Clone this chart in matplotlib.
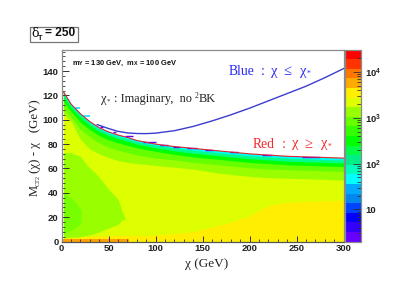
import matplotlib
matplotlib.use("Agg")
import matplotlib.pyplot as plt
from matplotlib.cm import ScalarMappable
from matplotlib.colors import ListedColormap, LogNorm
from matplotlib.patches import Rectangle
from matplotlib.ticker import FixedLocator, NullFormatter

plt.rcParams['font.family'] = ['Liberation Sans', 'DejaVu Sans']
plt.rcParams['mathtext.fontset'] = 'custom'
plt.rcParams['mathtext.rm'] = 'Liberation Sans:bold'
plt.rcParams['mathtext.bf'] = 'Liberation Sans:bold'
plt.rcParams['mathtext.it'] = 'Liberation Serif:italic'

# ---- data ----
knots = [2, 10, 20, 30, 40, 50, 60, 70, 80, 100, 120, 140, 160, 180, 200, 220, 240, 260, 280, 300]
red_curve = [123, 113, 105, 98.5, 93.5, 90, 87.5, 85.5, 83, 80, 78, 76.5, 75, 73.5, 72, 71, 70, 69.5, 69, 68.5]
cyan_low = [121.5, 112, 104, 97.5, 92.5, 89, 86.5, 84.5, 82, 79, 77, 75, 73.5, 72, 70.5, 69.5, 68.5, 68, 67.5, 67]
teal_low = [119, 110, 102, 95.5, 90.5, 87, 84.5, 82.5, 80, 77, 74.5, 72.5, 71, 69.5, 68, 67, 66, 65.5, 65, 64.5]
green_low = [115, 107, 98, 92, 87, 83.5, 81, 79, 77, 74, 71.5, 69.5, 68, 66.5, 65, 64, 63, 62.5, 62, 61.5]
grass_low = [110, 102, 92, 86, 81, 77.5, 75, 73, 71, 68.5, 67, 65, 63.5, 62, 60.5, 59.5, 59, 58.5, 58, 57.5]
lime_low = [105, 99, 84, 76, 72, 69, 66.5, 65, 64, 62.5, 61, 59.5, 57, 55, 53.5, 52.5, 52, 51.5, 51, 50.5]

blue_x = [38, 50, 60, 70, 80, 90, 100, 120, 140, 160, 180, 200, 220, 240, 260, 280, 300]
blue_y = [96, 92.8, 90.5, 89.2, 88.7, 88.6, 89, 91, 94.5, 99, 104, 109.5, 115.5, 121.5, 127.5, 134.5, 142]

yellow_x = [2, 30, 60, 94, 120, 140, 165, 180, 200, 218, 236, 260, 280, 300]
yellow_hi = [2.5, 4.5, 5, 5, 6.5, 8, 13, 16, 21, 29, 32, 33, 33.5, 34]

patch_x = [2, 10, 20, 28, 35, 40, 45, 50, 55, 60, 65, 68]
patch_hi = [73, 73, 70, 62, 57, 53, 48, 43, 39, 35, 24, 18]
patch_lo = [3, 3.5, 4, 5, 6.5, 8, 9.5, 11, 12.5, 14, 18, 18]

core_x = [2, 6, 10, 14, 18, 21]
core_hi = [41, 38, 35.5, 33, 29, 26]
core_lo = [6, 8, 9, 11, 13, 16]

orange_x = [2, 72]
orange_hi = [2, 2]

violet_start = [41, 55, 67.5, 87, 105, 119, 133.5, 152.7, 179, 213, 256]
violet_end = [44, 58, 76, 101, 113, 126, 144, 161, 188, 224, 275]
violet_y = [93.8, 89.6, 86.4, 81.8, 79.6, 78, 76.6, 75, 73.2, 71.4, 69.8]
cyan_start = [14, 23]
cyan_end = [20, 30]
cyan_y = [110, 103]

palette = ['#6600ff', '#3300ff', '#0000ff', '#0044ff', '#0088ee', '#00aaff', '#00ffff', '#00ffbb',
           '#00ee88', '#00ff44', '#00ff00', '#33ff00', '#66ff00', '#99ff00', '#ddff00', '#ffee00',
           '#ffaa00', '#ff7700', '#ff3300', '#ff0000']
x_ticks = [0, 50, 100, 150, 200, 250, 300]
y_ticks = [0, 20, 40, 60, 80, 100, 120, 140]
z_ticks = [10, 100, 1000, 10000]
z_labels = ['10', r'$\mathbf{10^{2}}$', r'$\mathbf{10^{3}}$', r'$\mathbf{10^{4}}$']

W, H = 415, 293
fig = plt.figure(figsize=(W / 100, H / 100), dpi=100)
ax = fig.add_axes([61.5 / W, 1 - 241.5 / H, 282 / W, 192 / H])
GRAY = '#8a8a8a'

# ---- histogram bands, widest first ----
ax.fill_between(knots, 0, red_curve, color='#ddff00', lw=0)
ax.fill_between(yellow_x, 0, yellow_hi, color='#ffee00', lw=0)
for low, col in [(lime_low, '#99ff00'), (grass_low, '#66ff00'), (green_low, '#00ff00'),
                 (teal_low, '#00ff88'), (cyan_low, '#00ffff')]:
    ax.fill_between(knots, low, red_curve, color=col, lw=0)
ax.fill_between(patch_x, patch_lo, patch_hi, color='#99ff00', lw=0)
ax.fill_between(core_x, core_lo, core_hi, color='#77ff00', lw=0)
ax.fill_between(orange_x, 0, orange_hi, color='#ffa000', lw=0)
ax.hlines(violet_y, violet_start, violet_end, color='#6600ee', lw=1.0)
ax.hlines(cyan_y, cyan_start, cyan_end, color='#22ddff', lw=1.2)

ax.plot(knots, red_curve, color='#d82838', lw=0.8)
ax.plot(blue_x, blue_y, color='#3c3cd0', lw=1.0)

ax.set_xlim(0, 300)
ax.set_ylim(0, 157.7)
ax.set_xticks(x_ticks)
ax.set_yticks(y_ticks)
ax.set_xticks(range(0, 301, 10), minor=True)
ax.set_yticks(range(0, 157, 4), minor=True)
ax.tick_params(axis='x', which='major', direction='in', length=4, width=0.7, color='#333333', pad=2)
ax.tick_params(axis='x', which='minor', direction='in', length=2, width=0.6, color='#333333')
ax.tick_params(axis='y', which='major', direction='in', length=5, width=0.7, color='#333333', pad=2)
ax.tick_params(axis='y', which='minor', direction='in', length=2.5, width=0.6, color='#333333')
for lab in ax.get_xticklabels() + ax.get_yticklabels():
    lab.set_fontweight('bold')
    lab.set_fontsize(6.8)
    lab.set_color('#222222')
for s in ax.spines.values():
    s.set_color(GRAY)
    s.set_linewidth(0.9)
ax.spines['bottom'].set_color('#555555')

# ---- colour bar ----
cax = fig.add_axes([345 / W, 1 - 241.5 / H, 16 / W, 192 / H])
sm = ScalarMappable(norm=LogNorm(vmin=2, vmax=31000), cmap=ListedColormap(palette))
cb = fig.colorbar(sm, cax=cax)
cb.set_ticks(z_ticks)
cb.set_ticklabels(z_labels)
cax.yaxis.set_minor_locator(FixedLocator(
    [m * 10 ** e for e in range(0, 5) for m in range(2, 10) if 2 <= m * 10 ** e <= 31000]))
cax.yaxis.set_minor_formatter(NullFormatter())
cax.tick_params(axis='y', which='major', direction='in', length=6, width=0.6, color='#333333', pad=3, right=True)
cax.tick_params(axis='y', which='minor', direction='in', length=3, width=0.6, color='#333333', right=True)
for lab in cax.get_yticklabels():
    lab.set_fontweight('bold')
    lab.set_fontsize(6.8)
    lab.set_color('#222222')
cb.outline.set_edgecolor(GRAY)
cb.outline.set_linewidth(0.9)

# ---- texts ----
def px(x, y):
    return x / W, 1 - y / H

fig.add_artist(Rectangle((29.5 / W, 1 - 41.5 / H), 48 / W, 14.5 / H, transform=fig.transFigure,
                         fc='white', ec='#777777', lw=0.9))
fig.text(*px(31.5, 33.5), 'δ', family='DejaVu Serif', fontsize=9, va='center', color='#111111')
fig.text(*px(37.5, 38.5), 'T', fontsize=5.2, va='center', fontweight='bold', color='#111111')
fig.text(*px(45, 33.5), '= 250', fontsize=8.6, fontweight='bold', va='center', color='#111111')

fig.text(*px(71.5, 63), r'm$_{\mathrm{Y}}$ = 130 GeV,  m$_{\mathrm{X}}$ = 100 GeV', fontsize=5.4,
         fontweight='bold', va='center', color='#111111')

SERIF = ['Liberation Serif', 'DejaVu Serif']
DARK = '#222222'
fig.text(*px(101, 99), 'χ', family=SERIF, fontsize=9, va='center', color=DARK)
fig.text(*px(107, 101.5), '*', family=SERIF, fontsize=5, va='center', color=DARK)
fig.text(*px(113.5, 99), ': Imaginary,  no', family=SERIF, fontsize=8.8, va='center', color=DARK)
fig.text(*px(195, 96), '2', family=SERIF, fontsize=5.5, va='center', color=DARK)
fig.text(*px(199, 99), 'BK', family=SERIF, fontsize=8.8, va='center', color=DARK)

BLUE = '#2a2af0'
REDT = '#f02a2a'
for x, s, sz, y in [(229, 'Blue', 9.8, 71), (261, ':', 9.8, 71), (271, 'χ', 10.5, 71), (283, '≤', 10.5, 71),
                    (300, 'χ', 10.5, 71), (307, '*', 5.5, 74)]:
    fig.text(*px(x, y), s, family=SERIF, fontsize=sz, va='center', color=BLUE)
for x, s, sz, y in [(253, 'Red', 9.8, 144), (282, ':', 9.8, 144), (292, 'χ', 10.5, 144), (304, '≥', 10.5, 144),
                    (321, 'χ', 10.5, 144), (328, '*', 5.5, 147)]:
    fig.text(*px(x, y), s, family=SERIF, fontsize=sz, va='center', color=REDT)

fig.text(*px(185, 264), 'χ (GeV)', family=SERIF, fontsize=9.5, va='center', color=DARK)
fig.text(*px(35, 191), 'M', family=SERIF, fontsize=9, rotation=90, ha='center', va='center', color=DARK)
fig.text(*px(38, 186), 'CT2', family=SERIF, fontsize=4.5, rotation=90, ha='center', va='bottom', color=DARK)
fig.text(*px(35, 173), '(χ) - χ   (GeV)', family=SERIF, fontsize=9.3, rotation=90, ha='center', va='bottom', color=DARK)

fig.savefig('out.png', dpi=100)
